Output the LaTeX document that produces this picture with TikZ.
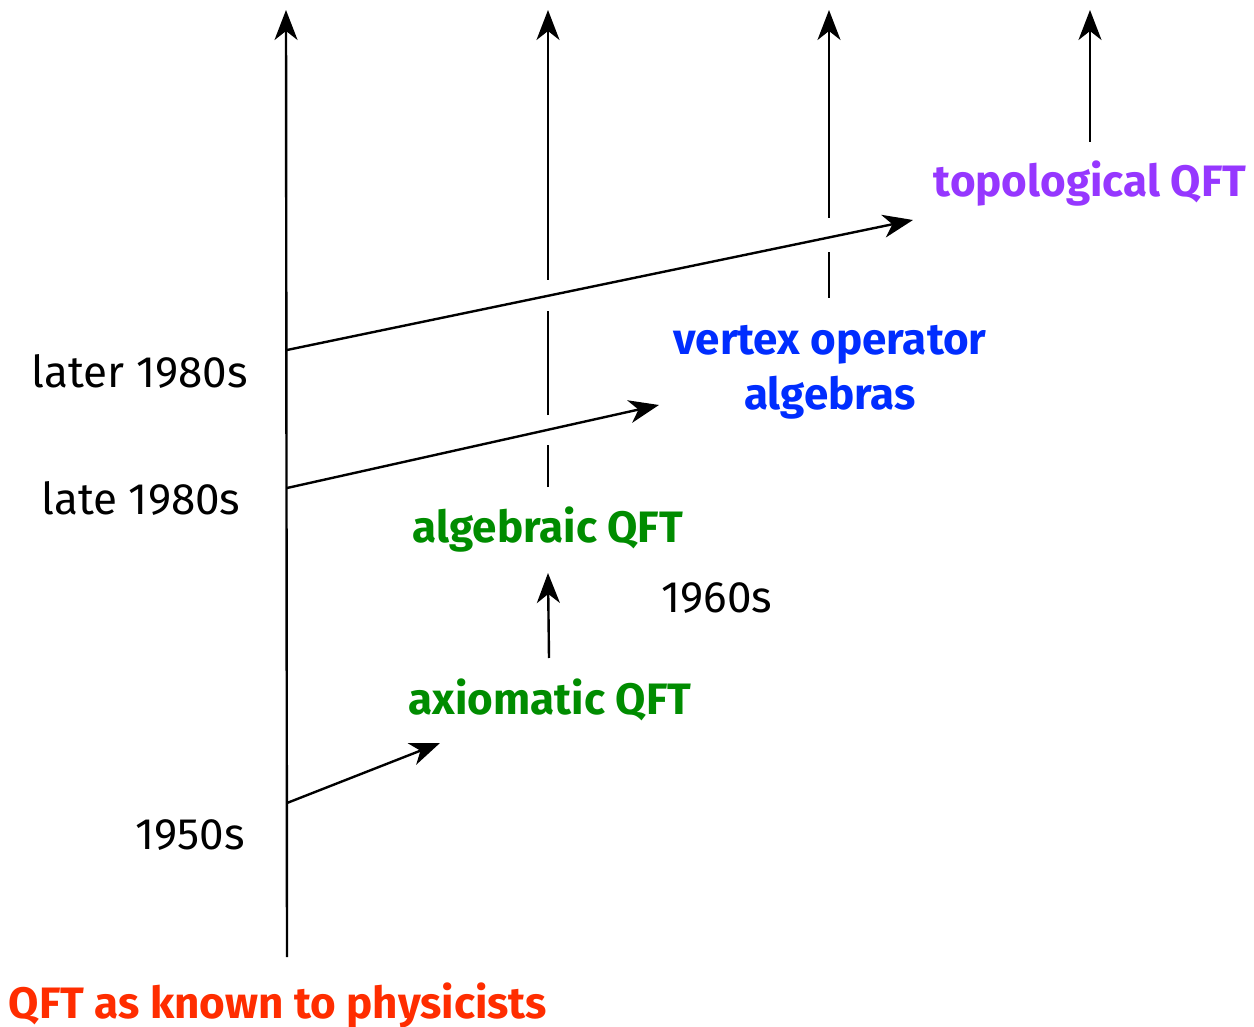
\documentclass[tikz,border=0pt]{standalone}
\usepackage{fontspec}
\setmainfont{Fira Sans}
\usetikzlibrary{arrows.meta}
\definecolor{qred}{RGB}{255,45,0}
\definecolor{qpurple}{RGB}{150,55,255}
\definecolor{qblue}{RGB}{0,45,255}
\definecolor{qgreen}{RGB}{0,140,0}
\begin{document}
\begin{tikzpicture}[x=1pt,y=-1pt,
 conn/.style={line width=2.4pt, -{Stealth[length=30pt,width=23pt,inset=9pt]}},
 seg/.style={line width=2.4pt},
 lbl/.style={font=\fontsize{44}{50}\selectfont, inner sep=0pt, anchor=base},
 blbl/.style={font=\fontsize{44}{50}\selectfont\bfseries, inner sep=0pt, anchor=base}]
\useasboundingbox (0,0) rectangle (1254,1027);
% main line
\coordinate (m0) at (287,957);
\coordinate (m1) at (286,10);
\coordinate (s1) at (287,803);
\coordinate (s2) at (287,488);
\coordinate (s3) at (287,350);
\draw[conn] (m0) -- (m1);
% second line (broken)
\coordinate (a0) at (548,487);
\coordinate (a1) at (548,445);
\coordinate (a2) at (548,415);
\coordinate (a3) at (548,311);
\coordinate (a4) at (548,280);
\coordinate (a5) at (548,10);
\draw[seg] (a0) -- (a1);
\draw[seg] (a2) -- (a3);
\draw[conn] (a4) -- (a5);
% third line
\coordinate (b0) at (829,298);
\coordinate (b1) at (829,252);
\coordinate (b2) at (829,218);
\coordinate (b3) at (829,10);
\draw[seg] (b0) -- (b1);
\draw[conn] (b2) -- (b3);
% fourth line
\coordinate (c0) at (1090,142);
\coordinate (c1) at (1090,10);
\draw[conn] (c0) -- (c1);
% labels
\node[blbl, text=qpurple] (top) at (1090,197) {topological QFT};
\node[blbl, text=qblue] (voa1) at (830,354) {vertex operator};
\node[blbl, text=qblue] (voa2) at (830,409) {algebras};
\node[blbl, text=qgreen] (alg) at (548,542) {algebraic QFT};
\node[lbl] (y60) at (717,612) {1960s};
\node[blbl, text=qgreen] (axi) at (550,714) {axiomatic QFT};
\node[lbl, anchor=base east] (y80b) at (248,387) {later 1980s};
\node[lbl] (y80a) at (141,514) {late 1980s};
\node[lbl, anchor=base east] (y50) at (245,849) {1950s};
\node[blbl, text=qred] (phys) at (278,1018) {QFT as known to physicists};
% diagonal arrows
\coordinate (t3) at (913,220);
\coordinate (t2) at (659,405);
\coordinate (t1) at (440,743);
\coordinate (u0) at (549,658);
\coordinate (u1) at (548,573);
\draw[conn] (s3) -- (t3);
\draw[conn] (s2) -- (t2);
\draw[conn] (s1) -- (t1);
\draw[conn] (u0) -- (u1);
\end{tikzpicture}
\end{document}
